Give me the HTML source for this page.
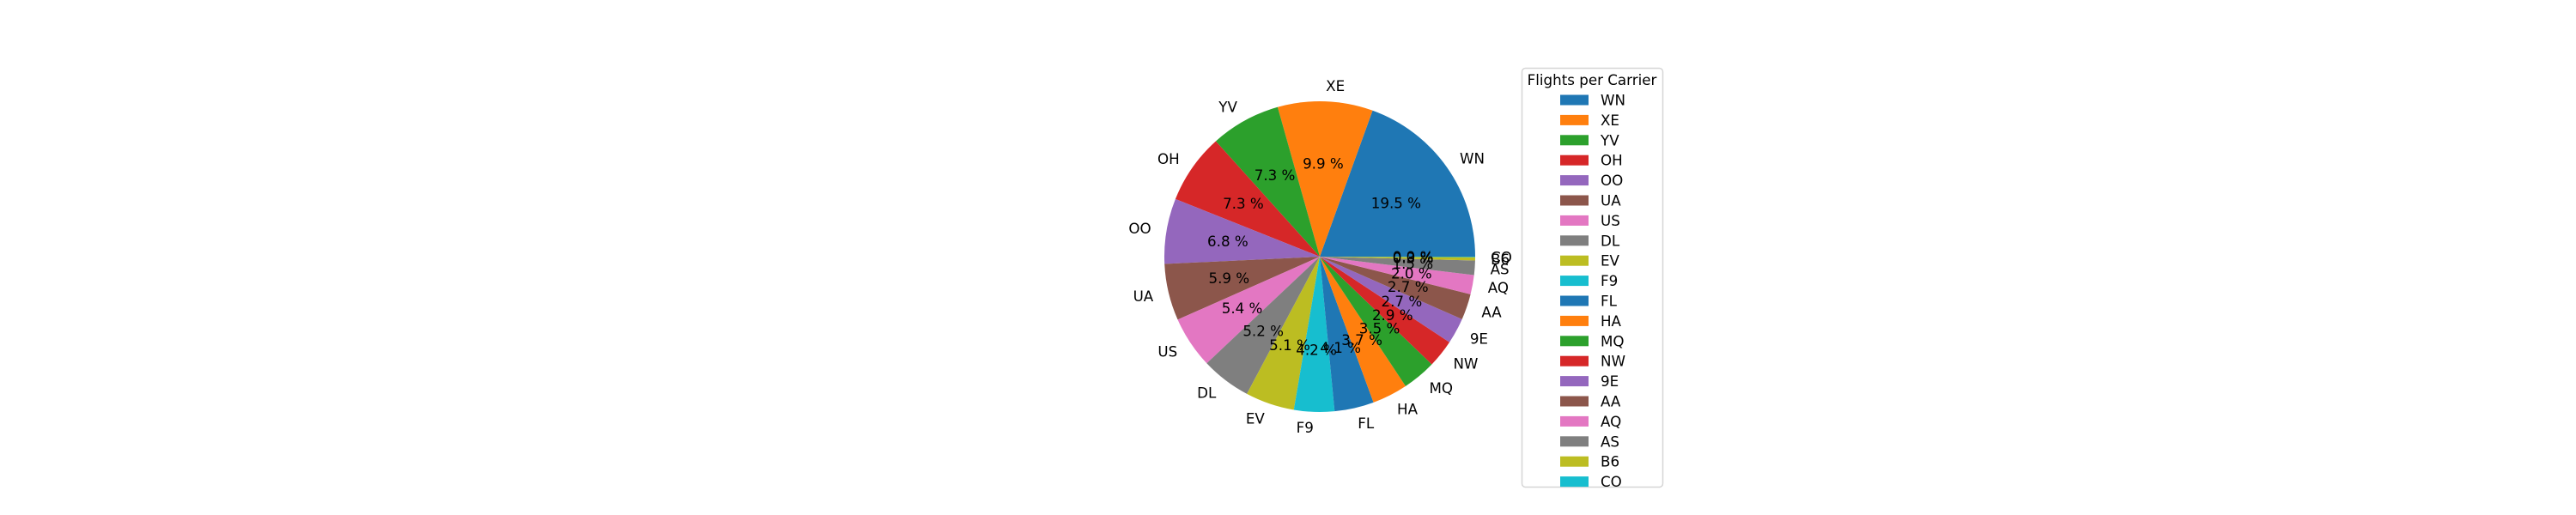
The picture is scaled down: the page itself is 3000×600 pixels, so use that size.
<!DOCTYPE html>
<html><head><meta charset="utf-8"><style>
html,body{margin:0;padding:0;background:#fff;}
svg{display:block;font-family:"DejaVu Sans","Liberation Sans",sans-serif;}
</style></head><body>
<svg id="chart" width="3000" height="600" viewBox="0 0 3000 600"></svg>
<script>
const carriers = ["WN","XE","YV","OH","OO","UA","US","DL","EV","F9","FL","HA","MQ","NW","9E","AA","AQ","AS","B6","CO"];
const shares = [19.5,9.9,7.3,7.3,6.8,5.9,5.4,5.2,5.1,4.2,4.1,3.7,3.5,2.9,2.7,2.7,2.0,1.5,0.35,0.05];
const palette = ["#1f77b4","#ff7f0e","#2ca02c","#d62728","#9467bd","#8c564b","#e377c2","#7f7f7f","#bcbd22","#17becf"];
const legendTitle = "Flights per Carrier";

const NS="http://www.w3.org/2000/svg";
const svg=document.getElementById('chart');
const cx=1537, cy=299, r=181;
function mk(t,a,p){const e=document.createElementNS(NS,t);for(const k in a)e.setAttribute(k,a[k]);(p||svg).appendChild(e);return e;}
const total=shares.reduce((a,b)=>a+b,0);
const pt=(ang,rad)=>[cx+rad*Math.cos(ang), cy-rad*Math.sin(ang)];
const gSlices=mk('g',{});


const gText=mk('g',{'font-size':'16.7'});


let start=0;
shares.forEach((v,i)=>{
  const sweep=v/total*2*Math.PI, end=start+sweep;
  const [x1,y1]=pt(start,r),[x2,y2]=pt(end,r);
  const large=sweep>Math.PI?1:0;
  const p=mk('path',{d:`M${cx},${cy} L${x1},${y1} A${r},${r} 0 ${large} 0 ${x2},${y2} Z`,fill:palette[i%10]},gSlices);
  
  
  const mid=(start+end)/2;
  const [lx,ly]=pt(mid,r*1.1);
  const t=mk('text',{x:lx,y:ly,'dominant-baseline':'central','text-anchor':Math.cos(mid)>=0?'start':'end',fill:'#000'},gText);
  t.textContent=carriers[i];
  
  
  const [px,py]=pt(mid,r*0.6);
  const tp=mk('text',{x:px,y:py,'dominant-baseline':'central','text-anchor':'middle',fill:'#000'},gText);
  tp.textContent=(v/total*100).toFixed(1)+' %';
  
  
  start=end;
});
// legend
const lg=mk('g',{});


mk('rect',{x:1772.5,y:79.5,width:164,height:488,rx:4,fill:'#fff',stroke:'#d6d6d6','stroke-width':1.5},lg);
const lt=mk('text',{x:1854,y:93,'text-anchor':'middle','dominant-baseline':'central','font-size':'16.7',fill:'#000'},lg);
lt.textContent=legendTitle;


carriers.forEach((c,i)=>{
  const y=116.5+i*23.4;
  const g=mk('g',{},lg);
  
  
  mk('rect',{x:1817,y:y-6,width:33,height:12,fill:palette[i%10]},g);
  const t=mk('text',{x:1864,y:y,'dominant-baseline':'central','font-size':'16.7',fill:'#000'},g);
  t.textContent=c;
});
</script>
</body></html>
